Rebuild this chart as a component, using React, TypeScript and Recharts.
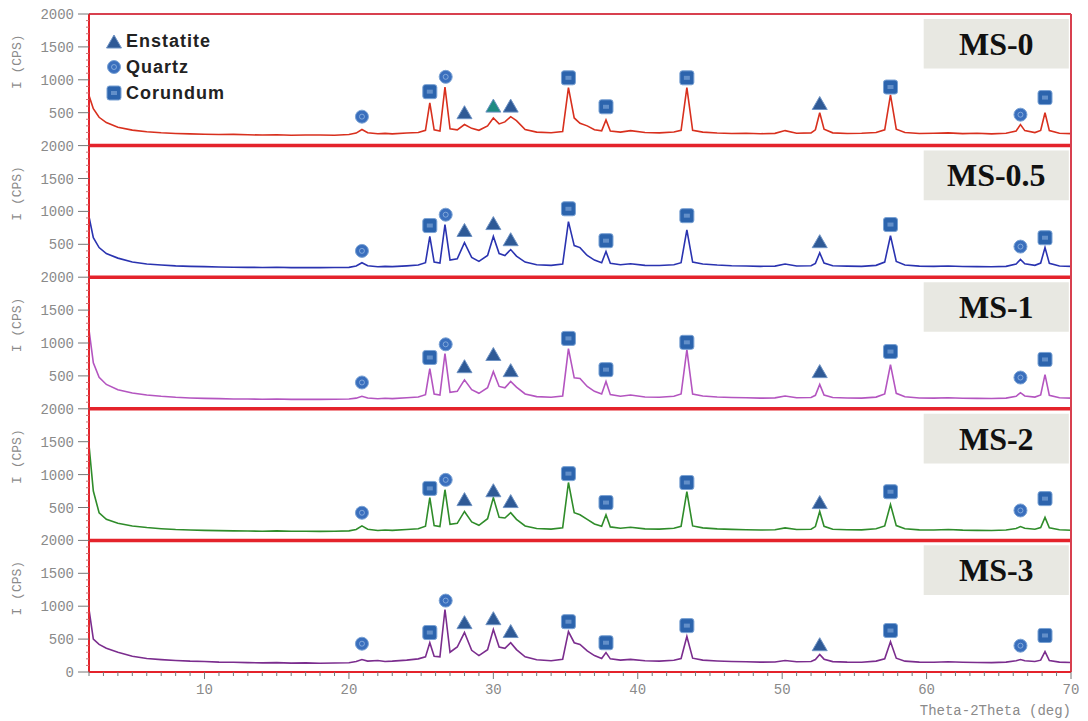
import React from "react";
import {
  ComposedChart, Line, Scatter, XAxis, YAxis, ReferenceLine, ReferenceArea,
} from "recharts";

// 2θ sampling positions shared by all patterns
const twoTheta = [
  2, 2.3, 2.7, 3.2, 4, 5, 6, 7, 8, 9,
  10, 11, 12, 13, 14, 15, 16, 17, 18, 19,
  20, 20.5, 20.9, 21.3, 22, 22.5, 23, 24, 24.8, 25.3,
  25.6, 25.9, 26.3, 26.65, 27, 27.5, 28, 28.5, 29, 29.6,
  30, 30.4, 30.8, 31.2, 31.6, 32.2, 33, 34, 34.8, 35.2,
  35.6, 36, 36.5, 37, 37.5, 37.8, 38.1, 38.8, 39.5, 40.5,
  41.5, 42.5, 43, 43.4, 43.8, 44.5, 45.5, 46.5, 47.5, 48.5,
  49.5, 50.2, 51, 52, 52.3, 52.6, 52.9, 53.5, 54.5, 55.5,
  56.5, 57.1, 57.5, 57.9, 58.5, 59.5, 60.5, 61.5, 62.5, 63.5,
  64.5, 65.5, 66.2, 66.5, 66.8, 67.5, 67.9, 68.2, 68.5, 69.2,
  70,
];

// intensities (CPS)
const ms0 = [
  760, 560, 430, 350, 280, 235, 210, 195, 185, 178,
  172, 168, 170, 164, 160, 166, 158, 162, 160, 158,
  168, 190, 245, 195, 180, 186, 178, 192, 200, 232,
  650, 240, 222, 890, 255, 240, 320, 262, 232, 300,
  420, 330, 360, 440, 380, 245, 205, 196, 215, 880,
  420, 340, 300, 240, 225, 390, 222, 205, 228, 200,
  194, 206, 232, 880, 232, 205, 192, 184, 188, 180,
  186, 228, 188, 194, 240, 500, 248, 194, 184, 188,
  198, 240, 770, 250, 198, 184, 188, 194, 182, 188,
  178, 188, 222, 320, 228, 198, 230, 500, 228, 188,
  182,
];
const ms05 = [
  920, 600, 450, 360, 290, 230, 200, 185, 172, 165,
  160, 156, 152, 150, 148, 152, 146, 148, 145, 147,
  150, 170, 220, 175, 158, 165, 160, 172, 185, 220,
  620, 230, 215, 800, 260, 280, 525, 300, 240, 330,
  620, 360, 330, 420, 320, 230, 190, 180, 200, 845,
  480, 450, 330, 260, 220, 390, 210, 190, 205, 180,
  178, 190, 220, 720, 230, 200, 185, 175, 170, 165,
  168, 200, 170, 175, 210, 370, 215, 175, 168, 165,
  180, 230, 630, 240, 185, 168, 165, 170, 162, 160,
  158, 165, 200, 270, 205, 180, 215, 450, 210, 170,
  165,
];
const ms1 = [
  1200, 700, 480, 370, 290, 240, 210, 190, 175, 165,
  158, 155, 150, 148, 146, 150, 144, 146, 143, 145,
  148, 162, 190, 165, 152, 160, 155, 168, 180, 215,
  610, 225, 210, 840, 250, 265, 440, 290, 235, 320,
  565, 340, 320, 415, 330, 225, 185, 175, 195, 915,
  470, 460, 340, 265, 225, 415, 215, 190, 210, 180,
  175, 190, 225, 900, 225, 195, 180, 172, 168, 162,
  166, 195, 168, 172, 205, 370, 210, 172, 165, 162,
  178, 225, 670, 235, 182, 165, 162, 168, 160, 158,
  156, 162, 190, 245, 195, 178, 210, 520, 205, 168,
  162,
];
const ms2 = [
  1450, 750, 420, 320, 260, 220, 195, 178, 165, 158,
  152, 148, 145, 142, 140, 144, 138, 140, 137, 140,
  145, 165, 220, 170, 150, 158, 152, 165, 178, 215,
  650, 225, 210, 770, 245, 260, 440, 280, 230, 330,
  650, 350, 340, 420, 320, 220, 180, 172, 192, 880,
  420, 390, 320, 250, 215, 390, 205, 185, 200, 175,
  172, 185, 215, 740, 220, 190, 175, 168, 162, 158,
  162, 190, 165, 170, 210, 440, 215, 170, 162, 160,
  178, 220, 545, 225, 178, 160, 158, 165, 156, 152,
  150, 158, 180, 210, 185, 170, 195, 350, 190, 162,
  155,
];
const ms3 = [
  950, 500, 420, 360, 300, 240, 205, 188, 175, 165,
  160, 150, 148, 142, 138, 142, 135, 138, 134, 136,
  140, 160, 190, 165, 175, 160, 165, 180, 200, 230,
  445, 240, 230, 950, 300, 380, 600, 330, 250, 340,
  645, 380, 360, 445, 340, 230, 185, 172, 195, 615,
  445, 420, 320, 250, 205, 295, 200, 180, 192, 170,
  165, 178, 205, 540, 210, 180, 168, 160, 155, 150,
  152, 175, 155, 160, 190, 265, 195, 158, 150, 148,
  165, 200, 460, 210, 165, 150, 148, 155, 148, 145,
  142, 150, 170, 190, 172, 160, 180, 310, 175, 150,
  145,
];

const sampleNames = ["MS-0", "MS-0.5", "MS-1", "MS-2", "MS-3"];
const sampleColors = ["#d8301e", "#2a33b0", "#b455c0", "#2f8c2a", "#7b2d8e"];
const sampleData = [ms0, ms05, ms1, ms2, ms3];

// phase markers: [panel, 2θ, height in panel CPS]
const quartzMarks = [
  [0, 20.9, 440], [0, 26.7, 1045], [0, 66.5, 470],
  [1, 20.9, 400], [1, 26.7, 950], [1, 66.5, 465],
  [2, 20.9, 400], [2, 26.7, 980], [2, 66.5, 475],
  [3, 20.9, 420], [3, 26.7, 920], [3, 66.5, 455],
  [4, 20.9, 430], [4, 26.7, 1085], [4, 66.5, 400],
];
const corundumMarks = [
  [0, 25.6, 820], [0, 35.2, 1030], [0, 37.8, 590], [0, 43.4, 1030], [0, 57.5, 890], [0, 68.2, 730],
  [1, 25.6, 785], [1, 35.2, 1040], [1, 37.8, 555], [1, 43.4, 935], [1, 57.5, 800], [1, 68.2, 600],
  [2, 25.6, 780], [2, 35.2, 1070], [2, 37.8, 595], [2, 43.4, 1010], [2, 57.5, 870], [2, 68.2, 750],
  [3, 25.6, 790], [3, 35.2, 1015], [3, 37.8, 575], [3, 43.4, 880], [3, 57.5, 740], [3, 68.2, 635],
  [4, 25.6, 600], [4, 35.2, 765], [4, 37.8, 445], [4, 43.4, 705], [4, 57.5, 630], [4, 68.2, 555],
];
const enstatiteMarks = [
  [0, 28, 500], [0, 30, 600], [0, 31.2, 600], [0, 52.6, 640],
  [1, 28, 710], [1, 30, 815], [1, 31.2, 570], [1, 52.6, 540],
  [2, 28, 640], [2, 30, 825], [2, 31.2, 580], [2, 52.6, 565],
  [3, 28, 620], [3, 30, 755], [3, 31.2, 590], [3, 52.6, 575],
  [4, 28, 750], [4, 30, 810], [4, 31.2, 615], [4, 52.6, 415],
];

const legendItems = ["Enstatite", "Quartz", "Corundum"];
const xLabelTicks = [10, 20, 30, 40, 50, 60, 70];

const PANEL = 2000;
const offsetOf = (i: number) => (sampleNames.length - 1 - i) * PANEL;

const lineSeries = sampleData.map((vals, i) =>
  twoTheta.map((x, k) => ({ x, y: offsetOf(i) + vals[k] }))
);
const toPoints = (marks: number[][]) =>
  marks.map(([p, x, y]) => ({ x, y: offsetOf(p) + y, teal: p === 0 && x === 30 }));

const yTicks: number[] = [];
for (let v = 0; v <= PANEL * 5; v += 100) yTicks.push(v);
const xTicks: number[] = [];
for (let v = 2; v <= 70; v += 1) xTicks.push(v);

const MONO = "'Liberation Mono', 'DejaVu Sans Mono', monospace";
const RED = "#e4232b";
const MARK_BLUE = "#2c64ad";

const SquareMark = (p: any) => (
  <g>
    <rect x={p.cx - 7} y={p.cy - 7} width={14} height={14} rx={2.5} fill={MARK_BLUE} stroke="#7aa2d4" strokeWidth={1} />
    <rect x={p.cx - 3} y={p.cy - 2} width={6} height={4} fill="#8fb3e0" opacity={0.55} />
  </g>
);
const CircleMark = (p: any) => (
  <g>
    <circle cx={p.cx} cy={p.cy} r={6.5} fill="#3a6fbd" stroke="#7aa2d4" strokeWidth={1} />
    <circle cx={p.cx} cy={p.cy} r={2.5} fill="none" stroke="#9dbde6" strokeWidth={1} opacity={0.7} />
  </g>
);
const TriangleMark = (p: any) => (
  <polygon
    points={`${p.cx},${p.cy - 7} ${p.cx - 7.5},${p.cy + 6} ${p.cx + 7.5},${p.cy + 6}`}
    fill={p.payload && p.payload.teal ? "#1e8a82" : "#2f5a96"}
    stroke="#6f93c4"
    strokeWidth={1}
  />
);

const YTick = (props: any) => {
  const { x, y, payload } = props;
  const v = payload.value;
  const major = v % 500 === 0;
  const label = v === 0 ? "0" : v % PANEL === 0 ? "2000" : String(v % PANEL);
  return (
    <g>
      <line x1={x - (major ? 11 : 3)} x2={x} y1={y} y2={y} stroke={major ? "#777" : "#c77"} strokeWidth={1} />
      {major && (
        <text x={x - 15} y={y + 5} textAnchor="end" fontSize={14} fontFamily={MONO} fill="#8a8a8a">
          {label}
        </text>
      )}
      {v % PANEL === 1000 && (
        <text
          x={21}
          y={y - 18}
          transform={`rotate(-90 21 ${y - 18})`}
          textAnchor="middle"
          fontSize={13}
          fontFamily={MONO}
          fill="#8a8a8a"
        >
          I (CPS)
        </text>
      )}
    </g>
  );
};

const XTick = (props: any) => {
  const { x, y, payload } = props;
  const v = payload.value;
  const major = xLabelTicks.includes(v);
  return (
    <g>
      <line x1={x} x2={x} y1={y} y2={y + (major ? 7 : 4)} stroke="#777" strokeWidth={1} />
      {major && (
        <text x={x} y={y + 22} textAnchor="middle" fontSize={14} fontFamily={MONO} fill="#8a8a8a">
          {v}
        </text>
      )}
    </g>
  );
};

const LegendIcon = ({ kind }: { kind: string }) => (
  <svg width={16} height={16} style={{ marginRight: 4 }}>
    {kind === "Enstatite" && <TriangleMark cx={8} cy={9} />}
    {kind === "Quartz" && <CircleMark cx={8} cy={8} />}
    {kind === "Corundum" && <SquareMark cx={8} cy={8} />}
  </svg>
);

const boxLabel = (text: string) => (p: any) => {
  const vb = p.viewBox;
  return (
    <text
      x={vb.x + vb.width / 2}
      y={vb.y + vb.height / 2 + 11}
      textAnchor="middle"
      fontSize={32}
      fontWeight={700}
      fontFamily="'Liberation Serif', 'Times New Roman', serif"
      fill="#111"
    >
      {text}
    </text>
  );
};

export default function App() {
  return (
    <div style={{ position: "absolute", left: 0, top: 0, width: 1088, height: 721, background: "#fff" }}>
      <ComposedChart width={1088} height={721} margin={{ top: 14, right: 17, left: 39, bottom: 6 }}>
        <XAxis
          dataKey="x"
          type="number"
          domain={[2, 70]}
          ticks={xTicks}
          interval={0}
          allowDataOverflow
          height={43}
          tickSize={0}
          tickMargin={0}
          tickLine={false}
          tick={<XTick />}
          axisLine={{ stroke: RED, strokeWidth: 2 }}
          label={{
            value: "Theta-2Theta (deg)",
            position: "insideBottomRight",
            offset: 0,
            fill: "#8a8a8a",
            fontSize: 14,
            fontFamily: MONO,
          }}
        />
        <YAxis
          dataKey="y"
          type="number"
          domain={[0, PANEL * 5]}
          ticks={yTicks}
          interval={0}
          allowDataOverflow
          width={50}
          tickSize={0}
          tickMargin={0}
          tickLine={false}
          tick={<YTick />}
          axisLine={{ stroke: RED, strokeWidth: 2 }}
        />
        {sampleNames.map((name, i) => (
          <ReferenceArea
            key={`box-${name}`}
            x1={59.8}
            x2={69.85}
            y1={offsetOf(i) + 1170}
            y2={offsetOf(i) + 1925}
            fill="#e8e8e2"
            fillOpacity={1}
            stroke="none"
            label={boxLabel(name)}
          />
        ))}
        {sampleNames.map((name, i) => (
          <Line
            key={name}
            name={name}
            data={lineSeries[i]}
            dataKey="y"
            type="linear"
            stroke={sampleColors[i]}
            strokeWidth={1.6}
            dot={false}
            isAnimationActive={false}
            legendType="none"
          />
        ))}
        {[2000, 4000, 6000, 8000].map((v) => (
          <ReferenceLine key={v} y={v} stroke={RED} strokeWidth={3.5} />
        ))}
        <ReferenceLine y={10000} stroke="#d8404f" strokeWidth={2} />
        <ReferenceLine x={70} stroke="#d8404f" strokeWidth={2} />
        <Scatter name="Quartz" data={toPoints(quartzMarks)} shape={<CircleMark />} isAnimationActive={false} />
        <Scatter name="Corundum" data={toPoints(corundumMarks)} shape={<SquareMark />} isAnimationActive={false} />
        <Scatter name="Enstatite" data={toPoints(enstatiteMarks)} shape={<TriangleMark />} isAnimationActive={false} />
      </ComposedChart>
      <div style={{ position: "absolute", left: 106, top: 28 }}>
        {legendItems.map((name) => (
          <div key={name} style={{ display: "flex", alignItems: "center", height: 26 }}>
            <LegendIcon kind={name} />
            <span
              style={{
                fontFamily: "'Liberation Sans', Arial, sans-serif",
                fontWeight: 700,
                fontSize: 18,
                letterSpacing: 1,
                color: "#222",
              }}
            >
              {name}
            </span>
          </div>
        ))}
      </div>
    </div>
  );
}
